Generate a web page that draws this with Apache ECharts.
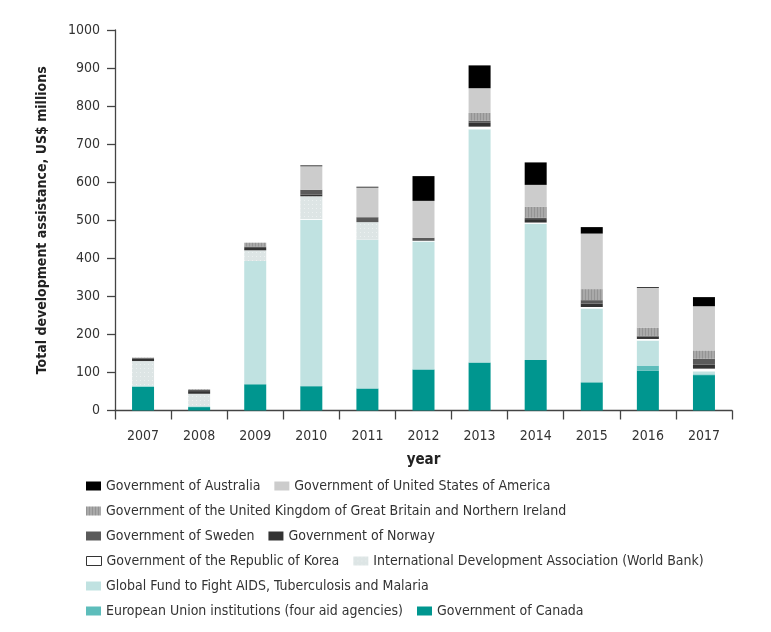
<!DOCTYPE html>
<html>
<head>
<meta charset="utf-8">
<script src="https://cdn.jsdelivr.net/npm/echarts@6/dist/echarts.min.js"></script>
<style>html,body{margin:0;padding:0;background:#fff}#c{width:771px;height:632px}</style>
</head>
<body>
<div id="c"></div>
<script>
var years = ['2007','2008','2009','2010','2011','2012','2013','2014','2015','2016','2017'];
var canada     = [63, 9, 69, 64, 58, 108, 126, 133, 74, 105, 93];
var eu         = [0, 0, 0, 0, 0, 0, 0, 0, 0, 13, 2];
var globalFund = [3, 3, 324, 437, 391, 336, 613, 358, 194, 66, 8];
var korea      = [0, 0, 0, 2, 0, 2, 7, 3, 4, 4, 7];
var ida        = [64, 32, 28, 60, 46, 0, 0, 0, 0, 0, 0];
var norway     = [6, 7, 6, 4, 0, 0, 10, 9, 9, 6, 11];
var sweden     = [2, 3, 4, 13, 13, 8, 6, 4, 9, 2, 15];
var uk         = [1, 2, 10, 0, 0, 0, 20, 28, 29, 22, 22];
var usa        = [0, 0, 0, 62, 78, 97, 65, 58, 146, 104, 116];
var australia  = [0, 0, 0, 2, 2, 65, 60, 59, 17, 2, 24];
var yTicks = {min: 0, max: 1000, interval: 100};

var FONT = "'Liberation Sans Narrow', 'DejaVu Sans Condensed', sans-serif";

var seriesDefs = [
  {name: 'Government of Canada', data: canada, color: '#00968f'},
  {name: 'European Union institutions (four aid agencies)', data: eu, color: '#5dbdbb'},
  {name: 'Global Fund to Fight AIDS, Tuberculosis and Malaria', data: globalFund, color: '#c0e2e1'},
  {name: 'Government of the Republic of Korea', data: korea, color: '#ffffff'},
  {name: 'International Development Association (World Bank)', data: ida, color: '#dde5e5',
    decal: {symbol: 'rect', symbolSize: 1, color: 'rgba(255,255,255,0.45)', dashArrayX: [1, 3], dashArrayY: [1, 3]}},
  {name: 'Government of Norway', data: norway, color: '#333333'},
  {name: 'Government of Sweden', data: sweden, color: '#5a5a5a'},
  {name: 'Government of the United Kingdom of Great Britain and Northern Ireland', data: uk, color: '#a9a9a9',
    decal: {symbol: 'rect', symbolSize: 1, color: 'rgba(0,0,0,0.12)', dashArrayX: [1, 2], dashArrayY: [10, 0]}},
  {name: 'Government of United States of America', data: usa, color: '#cccccc'},
  {name: 'Government of Australia', data: australia, color: '#000000'}
];

var series = seriesDefs.map(function (s) {
  var st = {color: s.color};
  if (s.decal) st.decal = s.decal;
  return {
    name: s.name, type: 'bar', stack: 'total', data: s.data, barWidth: 22,
    itemStyle: st, emphasis: {disabled: true}
  };
});

var legendRows = [
  ['Government of Australia', 'Government of United States of America'],
  ['Government of the United Kingdom of Great Britain and Northern Ireland'],
  ['Government of Sweden', 'Government of Norway'],
  ['Government of the Republic of Korea', 'International Development Association (World Bank)'],
  ['Global Fund to Fight AIDS, Tuberculosis and Malaria'],
  ['European Union institutions (four aid agencies)', 'Government of Canada']
];
var legends = legendRows.map(function (row, i) {
  return {
    left: 86, top: 479 + i * 25, padding: 0, itemGap: 14,
    itemWidth: 15, itemHeight: 9,
    textStyle: {fontFamily: FONT, fontSize: 14, color: '#333'},
    data: row.map(function (n) {
      var item = {name: n, icon: 'rect'};
      if (n === 'Government of the Republic of Korea') {
        item.itemStyle = {color: '#ffffff', borderColor: '#333', borderWidth: 1};
      }
      return item;
    })
  };
});

var chart = echarts.init(document.getElementById('c'), null, {renderer: 'canvas'});
chart.setOption({
  backgroundColor: '#fff',
  animation: false,
  grid: {left: 115, right: 39, top: 30, bottom: 221.5, containLabel: false},
  legend: legends,
  xAxis: {
    type: 'category', data: years,
    name: 'year', nameLocation: 'middle', nameGap: 42,
    nameTextStyle: {fontFamily: FONT, fontSize: 15, fontWeight: 'bold', color: '#222'},
    axisLine: {lineStyle: {color: '#444', width: 1.3}},
    axisTick: {show: true, length: 9, lineStyle: {color: '#444', width: 1.3}},
    axisLabel: {fontFamily: FONT, fontSize: 14, color: '#333', margin: 19}
  },
  yAxis: {
    type: 'value', min: yTicks.min, max: yTicks.max, interval: yTicks.interval,
    name: 'Total development assistance, US$ millions', nameLocation: 'middle', nameGap: 66,
    nameRotate: 90,
    nameTextStyle: {fontFamily: FONT, fontSize: 14, fontWeight: 'bold', color: '#222'},
    splitLine: {show: false},
    axisLine: {show: true, lineStyle: {color: '#444', width: 1.3}},
    axisTick: {show: true, length: 8, lineStyle: {color: '#444', width: 1.3}},
    axisLabel: {fontFamily: FONT, fontSize: 14, color: '#333', margin: 15,
      formatter: function (v) { return String(v); }}
  },
  series: series
});
</script>
</body>
</html>
